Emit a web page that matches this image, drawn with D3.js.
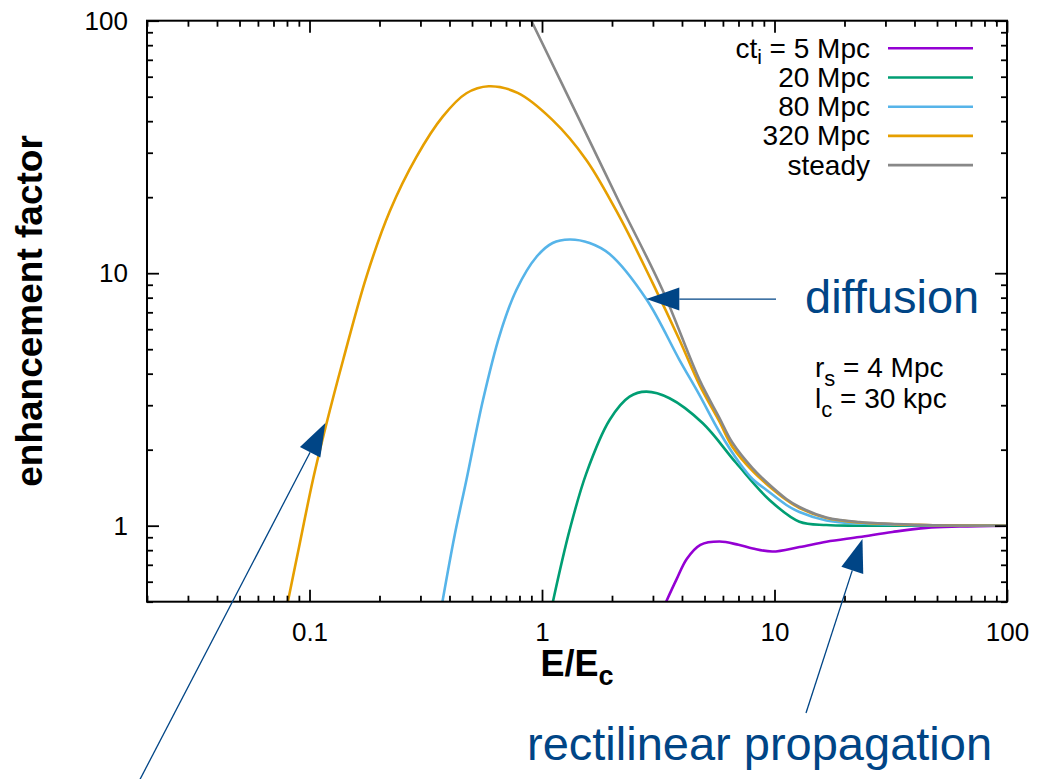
<!DOCTYPE html>
<html><head><meta charset="utf-8">
<script src="https://cdn.jsdelivr.net/npm/d3@7"></script>
<style>body{margin:0;background:#fff;overflow:hidden}</style>
</head><body>
<svg id="chart" width="1039" height="779"></svg>
<script>
// ---------- data ----------
const seriesLabels = ["ct_i = 5 Mpc", "20 Mpc", "80 Mpc", "320 Mpc", "steady"];
const seriesColors = ["#9400d3", "#009e73", "#56b4e9", "#e69f00", "#888888"];

const e5   = [3.42, 3.78, 4.20, 4.80, 5.80, 7.00, 8.065, 9.797, 12.80, 16.72, 23.17, 32.13, 44.98, 62.35, 100];
const v5   = [0.5, 0.61, 0.74, 0.84, 0.866, 0.84, 0.812, 0.790, 0.823, 0.864, 0.902, 0.944, 0.980, 0.992, 1.0];

const e20  = [1.114, 1.315, 1.551, 1.953, 2.380, 2.808, 3.536, 4.916, 6.843, 9.513, 12.80, 16.72, 23.17, 100];
const v20  = [0.5, 0.962, 1.612, 2.622, 3.244, 3.395, 3.197, 2.544, 1.771, 1.264, 1.037, 1.006, 1.0, 1.0];

const e80  = [0.373, 0.4212, 0.473, 0.5574, 0.6577, 0.7756, 0.9456, 1.111, 1.315, 1.602, 1.953, 2.808, 3.904, 4.759, 5.80, 7.071, 8.041, 9.235, 11.25, 12.80, 16.72, 23.17, 44.98, 100];
const v80  = [0.5, 0.919, 1.517, 3.147, 5.69, 8.58, 11.59, 13.17, 13.60, 13.17, 11.91, 7.90, 4.53, 3.29, 2.35, 1.771, 1.531, 1.385, 1.208, 1.133, 1.049, 1.020, 1.002, 1.0];

const e320 = [0.0807, 0.0909, 0.1034, 0.1184, 0.1395, 0.1758, 0.2214, 0.2884, 0.3741, 0.473, 0.5898, 0.7855, 1.111, 1.551, 2.157, 2.989, 3.904, 4.759, 5.80, 6.597, 8.041, 9.235, 11.25, 12.80, 16.72, 23.17, 44.98, 100];
const v320 = [0.5, 0.854, 1.517, 2.544, 4.53, 9.7, 17.6, 28.9, 41.7, 51.6, 55.0, 51.8, 40.4, 28.1, 16.7, 9.15, 5.44, 3.61, 2.58, 2.05, 1.647, 1.463, 1.264, 1.175, 1.073, 1.030, 1.006, 1.0];

const eSteady = [0.90, 1.451, 2.157, 3.299, 4.759, 5.80, 6.597, 8.041, 9.235, 11.25, 12.80, 16.72, 23.17, 44.98, 100];
const vSteady = [100, 40.4, 18.97, 8.58, 3.78, 2.67, 2.13, 1.69, 1.489, 1.276, 1.186, 1.078, 1.034, 1.006, 1.0];

const xMajorTicks = [0.1, 1, 10, 100];
const xTickLabels = ["0.1", "1", "10", "100"];
const yMajorTicks = [1, 10, 100];
const yTickLabels = ["1", "10", "100"];

// ---------- layout ----------
const FONT = "'Liberation Sans', Arial, Helvetica, sans-serif";
const L = 147, R = 1007, T = 20.7, B = 601.7;
const x = d3.scaleLog().domain([0.02, 100]).range([L, R]);
const y = d3.scaleLog().domain([0.5, 100]).range([B, T]);

const svg = d3.select("#chart");

const isMajor = v => Math.abs(Math.log10(v) - Math.round(Math.log10(v))) < 1e-9;
const xMinor = x.ticks().filter(v => !isMajor(v));
const yMinor = y.ticks().filter(v => !isMajor(v));

svg.append("defs").append("clipPath").attr("id", "plotclip")
  .append("rect").attr("x", L).attr("y", T).attr("width", R - L).attr("height", B - T);

// curves
const series = [
  [e5, v5], [e20, v20], [e80, v80], [e320, v320], [eSteady, vSteady]
];
const line = d3.line().x(d => x(d[0])).y(d => y(d[1])).curve(d3.curveCatmullRom.alpha(0.5));
const gCurves = svg.append("g").attr("clip-path", "url(#plotclip)");
series.forEach((s, i) => {
  const pts = s[0].map((e, j) => [e, s[1][j]]);
  gCurves.append("path").attr("d", line(pts)).attr("fill", "none")
    .attr("stroke", seriesColors[i]).attr("stroke-width", 2.6)
    .attr("stroke-linejoin", "round");
});

// axes (ticks inside, mirrored)
function styleAxis(g) {
  g.select(".domain").remove();
  g.selectAll(".tick line").attr("stroke", "#000").attr("stroke-width", 1.8);
  g.selectAll("text").attr("font-family", FONT).attr("font-size", 26).attr("fill", "#000");
}
const majLen = 12, minLen = 6;
svg.append("g").attr("transform", `translate(0,${B})`)
  .call(d3.axisBottom(x).tickValues(xMajorTicks).tickSize(-majLen).tickPadding(21)
    .tickFormat((d, i) => xTickLabels[i])).call(styleAxis);
svg.append("g").attr("transform", `translate(0,${B})`)
  .call(d3.axisBottom(x).tickValues(xMinor).tickSize(-minLen).tickFormat("")).call(styleAxis);
svg.append("g").attr("transform", `translate(0,${T})`)
  .call(d3.axisTop(x).tickValues(xMajorTicks).tickSize(-majLen).tickFormat("")).call(styleAxis);
svg.append("g").attr("transform", `translate(0,${T})`)
  .call(d3.axisTop(x).tickValues(xMinor).tickSize(-minLen).tickFormat("")).call(styleAxis);
svg.append("g").attr("transform", `translate(${L},0)`)
  .call(d3.axisLeft(y).tickValues(yMajorTicks).tickSize(-majLen).tickPadding(19)
    .tickFormat((d, i) => yTickLabels[i])).call(styleAxis);
svg.append("g").attr("transform", `translate(${L},0)`)
  .call(d3.axisLeft(y).tickValues(yMinor).tickSize(-minLen).tickFormat("")).call(styleAxis);
svg.append("g").attr("transform", `translate(${R},0)`)
  .call(d3.axisRight(y).tickValues(yMajorTicks).tickSize(-majLen).tickFormat("")).call(styleAxis);
svg.append("g").attr("transform", `translate(${R},0)`)
  .call(d3.axisRight(y).tickValues(yMinor).tickSize(-minLen).tickFormat("")).call(styleAxis);

svg.append("rect").attr("x", L).attr("y", T).attr("width", R - L).attr("height", B - T)
  .attr("fill", "none").attr("stroke", "#000").attr("stroke-width", 2);

// axis titles
svg.append("text").attr("transform", "translate(42,311) rotate(-90)")
  .attr("text-anchor", "middle").attr("font-family", FONT).attr("font-size", 37)
  .attr("font-weight", "bold").text("enhancement factor");
const xt = svg.append("text").attr("x", 577).attr("y", 676).attr("text-anchor", "middle")
  .attr("font-family", FONT).attr("font-size", 36).attr("font-weight", "bold");
xt.append("tspan").text("E/E");
xt.append("tspan").attr("dy", 9).attr("font-size", 27).text("c");

// legend
const legX = 870, legY0 = 48.3, legStep = 29.2;
seriesLabels.forEach((lab, i) => {
  const ly = legY0 + i * legStep;
  const t = svg.append("text").attr("x", legX).attr("y", ly + 9.5).attr("text-anchor", "end")
    .attr("font-family", FONT).attr("font-size", 28);
  const m = lab.match(/^(.*)_(\w)(.*)$/);
  if (m) {
    t.append("tspan").text(m[1]);
    t.append("tspan").attr("dy", 6).attr("font-size", 21).text(m[2]);
    t.append("tspan").attr("dy", -6).text(m[3]);
  } else t.text(lab);
  svg.append("line").attr("x1", 888).attr("x2", 973).attr("y1", ly).attr("y2", ly)
    .attr("stroke", seriesColors[i]).attr("stroke-width", 2.6);
});

// parameter labels
const params = [["r", "s", " = 4 Mpc"], ["l", "c", " = 30 kpc"]];
params.forEach((p, i) => {
  const t = svg.append("text").attr("x", 815).attr("y", 377 + i * 31)
    .attr("font-family", FONT).attr("font-size", 28);
  t.append("tspan").text(p[0]);
  t.append("tspan").attr("dy", 9).attr("font-size", 22).text(p[1]);
  t.append("tspan").attr("dy", -9).text(p[2]);
});

// annotations
const annColor = "#004586";
function arrow(tail, tip) {
  const dx = tip[0] - tail[0], dy = tip[1] - tail[1];
  const len = Math.hypot(dx, dy), ux = dx / len, uy = dy / len;
  const hl = 33, hw = 11.5;
  const bx = tip[0] - ux * hl, by = tip[1] - uy * hl;
  svg.append("line").attr("x1", tail[0]).attr("y1", tail[1]).attr("x2", bx).attr("y2", by)
    .attr("stroke", annColor).attr("stroke-width", 1.3);
  svg.append("path").attr("d",
    `M${tip[0]},${tip[1]} L${bx - uy * hw},${by + ux * hw} L${bx + uy * hw},${by - ux * hw} Z`)
    .attr("fill", annColor);
}
arrow([776, y(7.9)], [x(2.81), y(7.9)]);
arrow([135, 789], [x(0.117), y(2.55)]);
arrow([806, 713], [x(23.9), y(0.886)]);

svg.append("text").attr("x", 805).attr("y", 313).attr("font-family", FONT)
  .attr("font-size", 47).attr("fill", annColor).text("diffusion");
svg.append("text").attr("x", 527).attr("y", 760).attr("font-family", FONT)
  .attr("font-size", 47).attr("fill", annColor).text("rectilinear propagation");
</script>
</body></html>
